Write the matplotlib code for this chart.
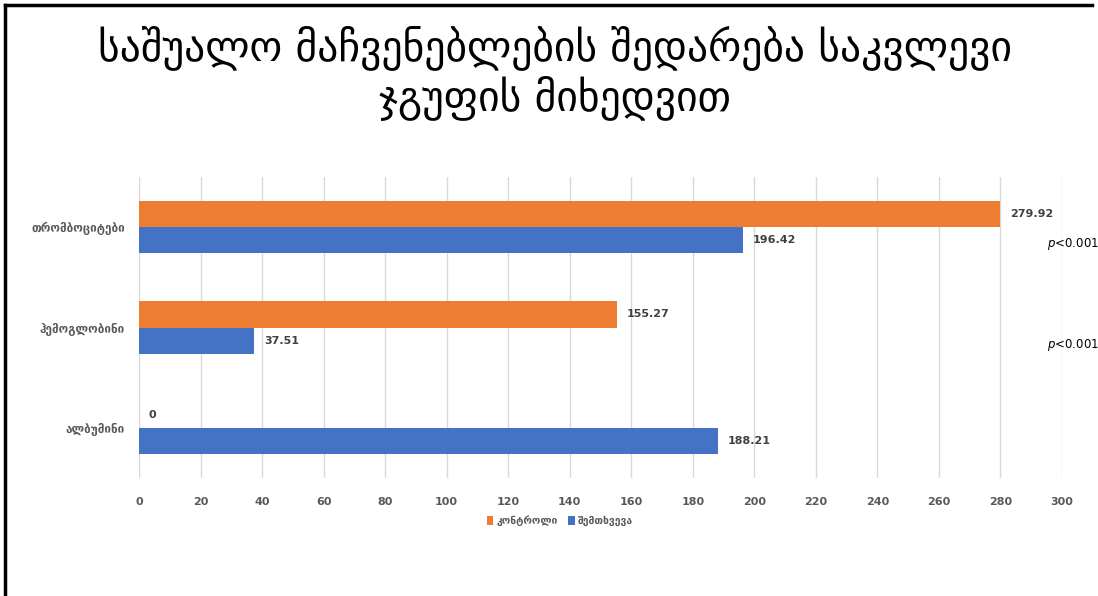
import matplotlib.pyplot as plt
import numpy as np
from matplotlib.lines import Line2D

categories = ["ალბუმინი", "ჰემოგლობინი", "თრომბოციტები"]
control = [0, 155.27, 279.92]
cases = [188.21, 37.51, 196.42]
series_names = ["კონტროლი", "შემთხვევა"]
p_labels = ["", "$p$<0.001", "$p$<0.001"]
xticks = list(range(0, 301, 20))

title = "საშუალო მაჩვენებლების შედარება საკვლევი\nჯგუფის მიხედვით"

ORANGE = "#ED7D31"
BLUE = "#4472C4"
GREY = "#595959"
LABEL = "#404040"

W, H = 1098, 596


def main():
    fig = plt.figure(figsize=(W / 100, H / 100), dpi=100)
    ax = fig.add_axes([139 / W, 1 - 478 / H, (1062 - 139) / W, (478 - 177) / H])

    y = np.arange(len(categories))
    h = 0.26
    b1 = ax.barh(y + h / 2, control, height=h, color=ORANGE, label=series_names[0])
    b2 = ax.barh(y - h / 2, cases, height=h, color=BLUE, label=series_names[1])

    for bars in (b1, b2):
        for rect in bars:
            v = rect.get_width()
            ax.annotate(f"{v:g}" if v else "0",
                        (v, rect.get_y() + rect.get_height() / 2),
                        xytext=(7, 0), textcoords="offset points",
                        va="center", ha="left", fontsize=8,
                        fontweight="bold", color=LABEL)

    for yi, p in zip(y, p_labels):
        if p:
            ax.annotate(p, (300, yi - 0.17), xytext=(-11, 0), textcoords="offset points",
                        va="center", ha="left", fontsize=8.5, color="black",
                        annotation_clip=False)

    ax.set_xlim(0, 300)
    ax.set_ylim(-0.5, len(categories) - 0.5)
    ax.set_xticks(xticks)
    ax.set_yticks(y)
    ax.set_yticklabels(categories)
    ax.tick_params(axis="both", length=0, colors=GREY, labelsize=8)
    ax.tick_params(axis="x", pad=14)
    ax.tick_params(axis="y", pad=10, labelsize=8.5)
    for lab in ax.get_xticklabels() + ax.get_yticklabels():
        lab.set_fontweight("bold")
    ax.grid(axis="x", color="#D9D9D9", linewidth=1)
    ax.set_axisbelow(True)
    for s in ax.spines.values():
        s.set_visible(False)

    fig.legend(loc="center", bbox_to_anchor=(560 / W, 1 - 521 / H), ncol=2,
               frameon=False, handlelength=0.6, handleheight=1.0,
               handletextpad=0.3, columnspacing=1.0, labelcolor=GREY,
               prop={"weight": "bold", "size": 7.5})

    fig.text(555 / W, 1 - 73 / H, title, ha="center", va="center",
             fontsize=30, linespacing=1.17)

    # frame lines (top and left only)
    fig.add_artist(Line2D([5 / W, 1092 / W], [1 - 5 / H, 1 - 5 / H], color="black", lw=2.5))
    fig.add_artist(Line2D([5 / W, 5 / W], [1 - 5 / H, 0], color="black", lw=2.5))

    fig.savefig("out.png", dpi=100)


if __name__ == "__main__":
    main()
